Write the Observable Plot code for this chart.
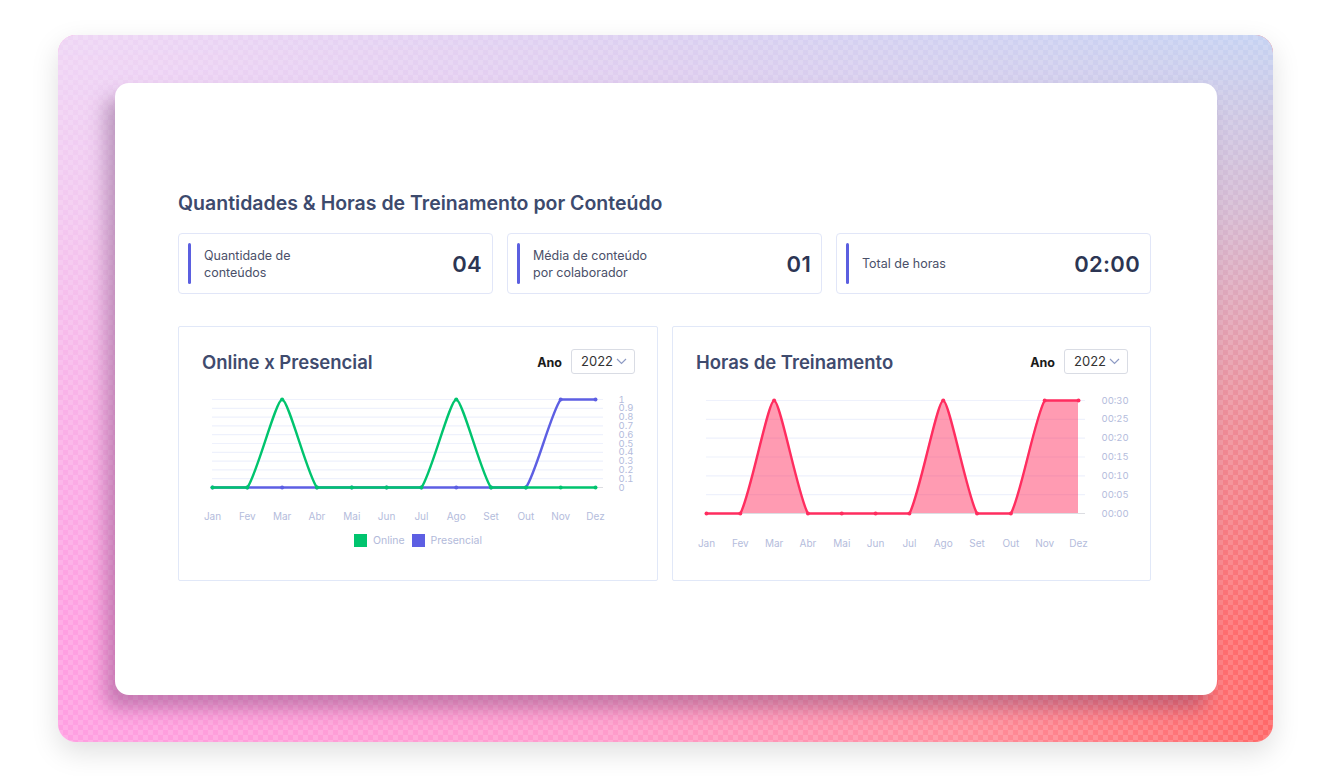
<!DOCTYPE html>
<html>
<head>
<meta charset="utf-8">
<script src="https://cdn.jsdelivr.net/npm/d3@7"></script>
<script src="https://cdn.jsdelivr.net/npm/@observablehq/plot@0.6"></script>
<style>
  html, body { margin:0; padding:0; }
  body { width:1332px; height:776px; position:relative; background:#fff; font-family: Inter, "Noto Sans", sans-serif; overflow:hidden; }
  .bg { position:absolute; left:58px; top:35px; width:1215px; height:707px; border-radius:18px; overflow:hidden;
        box-shadow: 0 10px 28px rgba(0,0,0,0.13); background: linear-gradient(to right, #ff9fe2 0%, #ff9ccc 45%, #ff8e9c 75%, #ff6868 100%); }
  .bg .top { position:absolute; inset:0; background: linear-gradient(to right, #efd6f5 0%, #dcd0f1 50%, #c6d3f3 100%);
        -webkit-mask-image: linear-gradient(to bottom, #000 0%, rgba(0,0,0,0.75) 25%, rgba(0,0,0,0.3) 55%, transparent 85%);
        mask-image: linear-gradient(to bottom, #000 0%, rgba(0,0,0,0.75) 25%, rgba(0,0,0,0.3) 55%, transparent 85%); }
  .bg .check { position:absolute; inset:0; background: repeating-conic-gradient(rgba(255,255,255,0.14) 0 25%, transparent 0 50%); background-size:10px 10px; }
  .card { position:absolute; left:115px; top:83px; width:1102px; height:612px; border-radius:14px; background:#fff;
          box-shadow: -10px 14px 18px rgba(90,40,90,0.34); }
  .title { position:absolute; left:63px; top:108px; line-height:24px; font-size:19.5px; font-weight:600; color:#3d4a6d; white-space:nowrap; }
  .stat { position:absolute; top:150px; width:315px; height:61px; box-sizing:border-box; border:1px solid #e1e6f8; border-radius:4px;
          display:flex; align-items:center; }
  .stat .bar { position:absolute; left:9px; top:9px; width:3px; height:41px; border-radius:2px; background:#5b5fe0; }
  .stat .lbl { position:absolute; left:25px; font-size:12.5px; line-height:17px; color:#4a5069; }
  .stat .val { position:absolute; right:10px; font-size:22px; font-weight:600; color:#2c3553; letter-spacing:0.3px; }
  .panel { position:absolute; top:243px; height:255px; box-sizing:border-box; border:1px solid #e1e8f8; border-radius:2px; }
  .panel .ptitle { position:absolute; left:23px; top:23px; line-height:24px; font-size:18.5px; font-weight:600; color:#3f4b6e; white-space:nowrap; }
  .panel .ano { position:absolute; right:95px; top:24px; line-height:24px; font-size:12.5px; font-weight:700; color:#1a1a1a; }
  .panel .sel { position:absolute; right:22px; top:22px; width:64px; height:25px; box-sizing:border-box; border:1px solid #d9dce4; border-radius:3px;
                font-size:13px; color:#333; line-height:23px; padding-left:9px; }
  .panel .sel svg { position:absolute; right:7px; top:8px; }
  .panel .chart { position:absolute; left:11px; top:63px; }
  .legend { position:absolute; left:0; right:0; top:207px; display:flex; justify-content:center; gap:7px; font-size:10.5px; color:#b2bada; line-height:14px; }
  .legend span.sw { display:inline-block; width:13px; height:13px; vertical-align:top; margin-right:6px; }
</style>
</head>
<body>
<div class="bg"><div class="top"></div><div class="check"></div></div>
<div class="card">
  <div class="title">Quantidades &amp; Horas de Treinamento por Conteúdo</div>
  <div class="stat" style="left:63px"><div class="bar"></div><div class="lbl">Quantidade de<br>conteúdos</div><div class="val" id="v0"></div></div>
  <div class="stat" style="left:392px"><div class="bar"></div><div class="lbl">Média de conteúdo<br>por colaborador</div><div class="val" id="v1"></div></div>
  <div class="stat" style="left:721px"><div class="bar"></div><div class="lbl">Total de horas</div><div class="val" id="v2"></div></div>

  <div class="panel" style="left:63px; width:480px">
    <div class="ptitle">Online x Presencial</div>
    <div class="ano">Ano</div>
    <div class="sel">2022<svg width="11" height="7" viewBox="0 0 11 7"><path d="M1 1 L5.5 5.5 L10 1" fill="none" stroke="#8e9bc4" stroke-width="1.2"/></svg></div>
    <div class="chart" id="c1"></div>
    <div class="legend">
      <div><span class="sw" style="background:#00c46e"></span>Online</div>
      <div><span class="sw" style="background:#5d5fe3"></span>Presencial</div>
    </div>
  </div>

  <div class="panel" style="left:557px; width:479px">
    <div class="ptitle">Horas de Treinamento</div>
    <div class="ano">Ano</div>
    <div class="sel">2022<svg width="11" height="7" viewBox="0 0 11 7"><path d="M1 1 L5.5 5.5 L10 1" fill="none" stroke="#8e9bc4" stroke-width="1.2"/></svg></div>
    <div class="chart" id="c2"></div>
  </div>
</div>

<script>
// ---- data ----
const months = ["Jan","Fev","Mar","Abr","Mai","Jun","Jul","Ago","Set","Out","Nov","Dez"];
const online = [0,0,1,0,0,0,0,1,0,0,0,0];
const presencial = [0,0,0,0,0,0,0,0,0,0,1,1];
const horasMin = [0,0,30,0,0,0,0,30,0,0,30,30];
const countTicks = [0,0.1,0.2,0.3,0.4,0.5,0.6,0.7,0.8,0.9,1];
const countTickLabels = ["0","0.1","0.2","0.3","0.4","0.5","0.6","0.7","0.8","0.9","1"];
const hourTicks = [0,5,10,15,20,25,30];
const hourTickLabels = ["00:00","00:05","00:10","00:15","00:20","00:25","00:30"];
const statValues = ["04","01","02:00"];

statValues.forEach((v,i) => document.getElementById("v"+i).textContent = v);

// Spline curve (tension spline, control points capped to the line's extent)
function tensionCurve(t) {
  function factory(context) {
    let pts = [], line = NaN;
    function draw() {
      const n = pts.length;
      if (!n) return;
      const ys = pts.map(p => p[1]);
      const ymin = Math.min(...ys), ymax = Math.max(...ys);
      const cap = (y) => Math.max(ymin, Math.min(ymax, y));
      const cps = pts.map((cur, i) => {
        const prev = i > 0 ? pts[i - 1] : cur;
        const next = i < n - 1 ? pts[i + 1] : cur;
        const d01 = Math.hypot(cur[0] - prev[0], cur[1] - prev[1]);
        const d12 = Math.hypot(next[0] - cur[0], next[1] - cur[1]);
        let s01 = d01 / (d01 + d12), s12 = d12 / (d01 + d12);
        if (isNaN(s01)) s01 = 0; if (isNaN(s12)) s12 = 0;
        const fa = t * s01, fb = t * s12;
        return {
          p: [cur[0] - fa * (next[0] - prev[0]), cap(cur[1] - fa * (next[1] - prev[1]))],
          n: [cur[0] + fb * (next[0] - prev[0]), cap(cur[1] + fb * (next[1] - prev[1]))]
        };
      });
      if (line === 1) context.lineTo(pts[0][0], pts[0][1]); else context.moveTo(pts[0][0], pts[0][1]);
      for (let i = 1; i < n; i++) {
        const a = cps[i - 1].n, b = cps[i].p;
        context.bezierCurveTo(a[0], a[1], b[0], b[1], pts[i][0], pts[i][1]);
      }
    }
    return {
      areaStart() { line = 0; },
      areaEnd() { line = NaN; },
      lineStart() { pts = []; },
      lineEnd() {
        draw();
        if (line === 1) context.closePath();
        if (line === 0 || line === 1) line = 1 - line;
      },
      point(x, y) { pts.push([+x, +y]); }
    };
  }
  return factory;
}
const curve = tensionCurve(0.18);

const idx = months.map((m,i) => i);
const onlineData = idx.map(i => ({i, v: online[i]}));
const presData = idx.map(i => ({i, v: presencial[i]}));
const horasData = idx.map(i => ({i, v: horasMin[i]}));

const axisColor = "#b4bcdc";
const gridColor = "#eef1fc";
const baseColor = "#dcdde2";
const green = "#00c46e", purple = "#5d5fe3", red = "#ff2d5f";

const common = {
  style: {fontFamily: "Inter, sans-serif", fontSize: "10px", color: axisColor, background: "transparent", overflow: "visible"}
};

// Chart 1
const c1 = Plot.plot({
  ...common,
  width: 450, height: 140,
  marginLeft: 22, marginRight: 37, marginTop: 9, marginBottom: 43,
  x: {type: "linear", domain: [0, 11 * 391 / 383], axis: null},
  y: {domain: [0, 1], axis: null},
  marks: [
    Plot.gridY(countTicks.slice(1), {stroke: gridColor, strokeOpacity: 1, strokeWidth: 1.2}),
    Plot.ruleY([0], {stroke: baseColor, strokeWidth: 1.2}),
    Plot.axisY(countTicks, {anchor: "right", label: null, tickSize: 0, tickPadding: 15, fontSize: 9.5,
      tickFormat: (d) => countTickLabels[countTicks.indexOf(d)]}),
    Plot.axisX(idx, {anchor: "bottom", label: null, tickSize: 0, tickPadding: 25, fontSize: 10,
      tickFormat: (d) => months[d]}),
    Plot.line(presData, {x: "i", y: "v", stroke: purple, strokeWidth: 2.4, curve}),
    Plot.dot(presData, {x: "i", y: "v", fill: purple, r: 2}),
    Plot.line(onlineData, {x: "i", y: "v", stroke: green, strokeWidth: 2.4, curve}),
    Plot.dot(onlineData, {x: "i", y: "v", fill: green, r: 2})
  ]
});
document.getElementById("c1").appendChild(c1);

// Chart 2
const c2 = Plot.plot({
  ...common,
  width: 460, height: 170,
  marginLeft: 22, marginRight: 59, marginTop: 10, marginBottom: 47,
  x: {type: "linear", domain: [0, 11 * 379 / 372], axis: null},
  y: {domain: [0, 30], axis: null},
  marks: [
    Plot.gridY(hourTicks.slice(1), {stroke: gridColor, strokeOpacity: 1, strokeWidth: 1.2}),
    Plot.ruleY([0], {stroke: baseColor, strokeWidth: 1.2}),
    Plot.axisY(hourTicks, {anchor: "right", label: null, tickSize: 0, tickPadding: 16, fontSize: 9.5,
      tickFormat: (d) => hourTickLabels[hourTicks.indexOf(d)]}),
    Plot.axisX(idx, {anchor: "bottom", label: null, tickSize: 0, tickPadding: 26, fontSize: 10,
      tickFormat: (d) => months[d]}),
    Plot.areaY(horasData, {x: "i", y: "v", fill: red, fillOpacity: 0.48, curve}),
    Plot.line(horasData, {x: "i", y: "v", stroke: red, strokeWidth: 2.4, curve}),
    Plot.dot(horasData, {x: "i", y: "v", fill: red, r: 2})
  ]
});
document.getElementById("c2").appendChild(c2);
</script>
</body>
</html>
